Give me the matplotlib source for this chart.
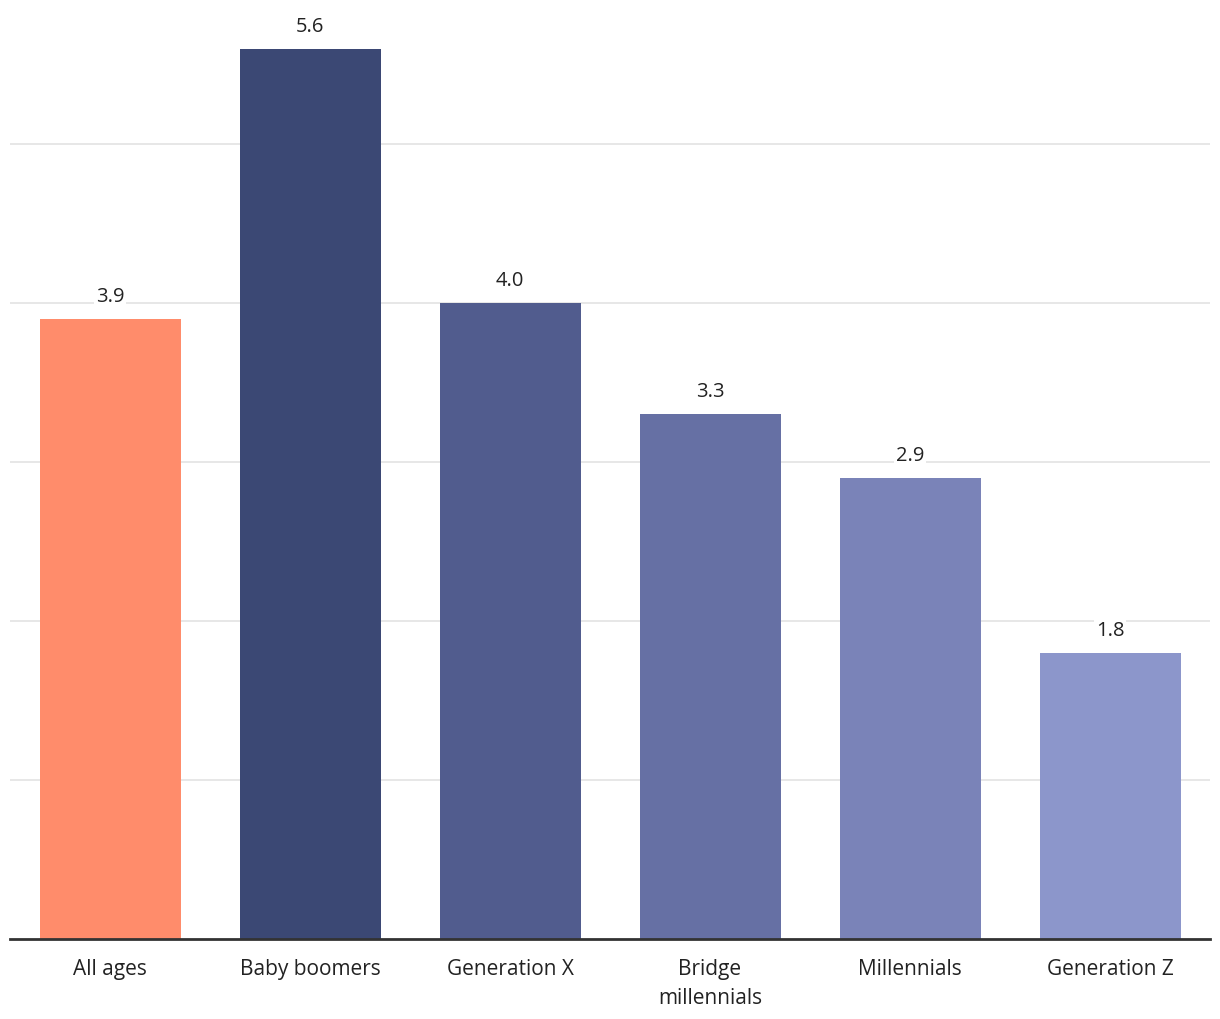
import matplotlib
matplotlib.use("Agg")
import matplotlib.pyplot as plt

categories = ["All ages", "Baby boomers", "Generation X", "Bridge\nmillennials", "Millennials", "Generation Z"]
values = [3.9, 5.6, 4.0, 3.3, 2.9, 1.8]
colors = ["#FF8C6B", "#3B4874", "#515C8E", "#6670A4", "#7A83B8", "#8C96CB"]
gridlines = [1, 2, 3, 4, 5]

plt.rcParams['font.family'] = ['Open Sans', 'DejaVu Sans']

fig = plt.figure(figsize=(12.2, 10.2), dpi=100)
ax = fig.add_axes([10/1220, 80/1020, 1200/1220, 938/1020])
x = list(range(len(categories)))
ax.bar(x, values, width=0.705, color=colors, zorder=2)
for g in gridlines:
    ax.axhline(g, color="#e3e3e3", lw=1.2, zorder=1)
for xi, v in zip(x, values):
    ax.text(xi, v + 0.145, f"{v:.1f}", ha="center", va="center", fontsize=14.5,
            color="#222222", zorder=3,
            bbox=dict(boxstyle="square,pad=0.1", fc="white", ec="none"))
ax.set_xlim(-0.5, len(categories) - 0.5)
ax.set_ylim(0, 5.9)
ax.set_yticks([])
ax.set_xticks(x)
ax.set_xticklabels(categories, fontsize=15, color="#222222", linespacing=1.5)
ax.tick_params(axis="x", length=0, pad=14)
for s in ["top", "right", "left"]:
    ax.spines[s].set_visible(False)
ax.spines["bottom"].set_color("#333333")
ax.spines["bottom"].set_linewidth(2)
ax.spines["bottom"].set_zorder(4)
fig.savefig("out.png", dpi=100, facecolor="white")
